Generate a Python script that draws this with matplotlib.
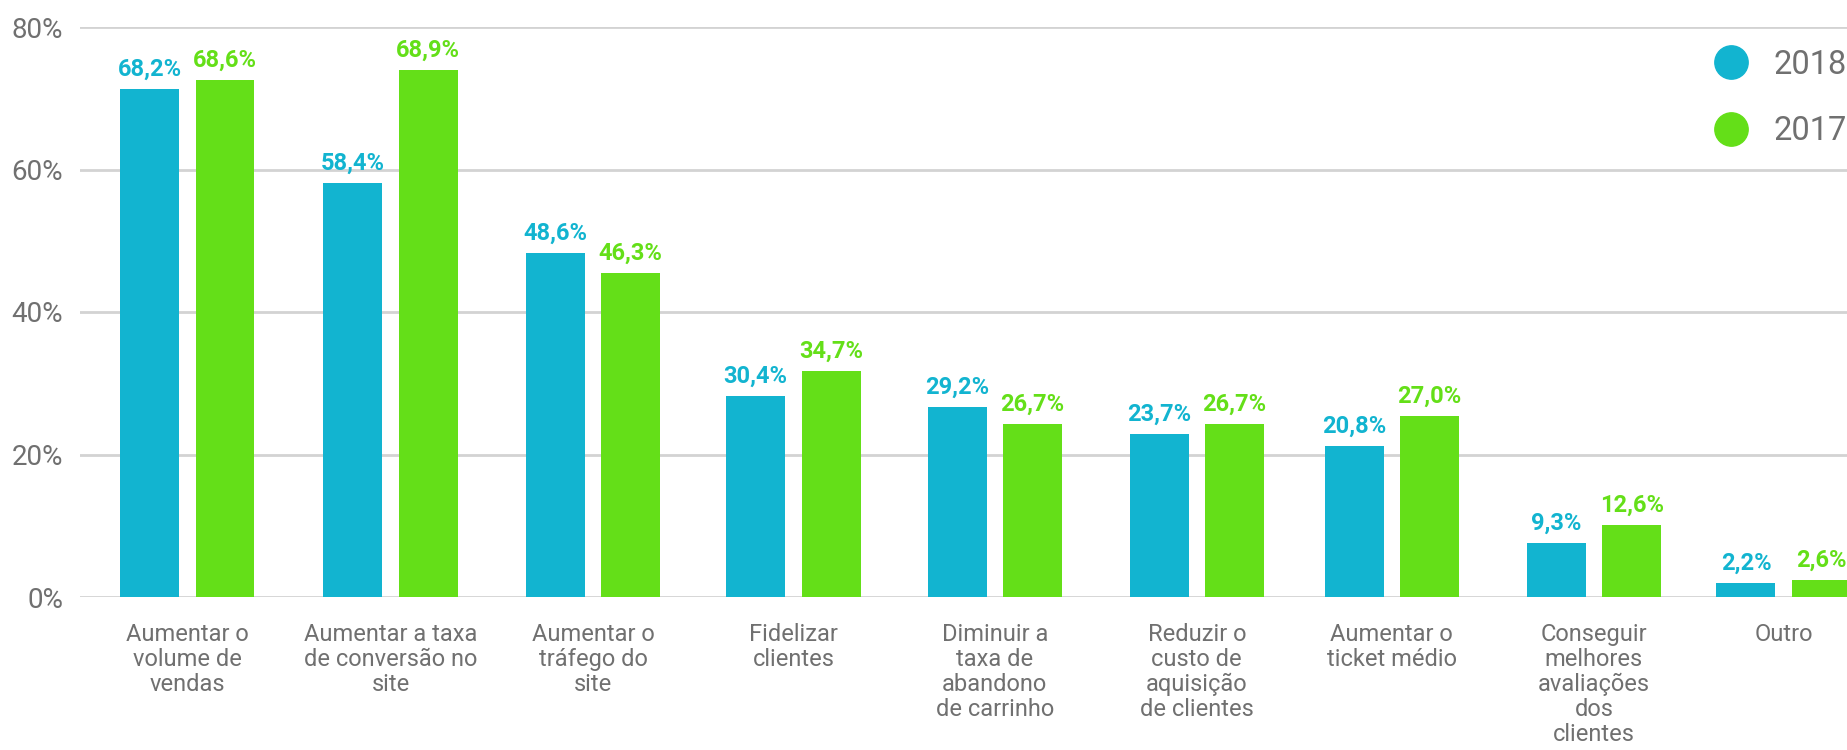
import matplotlib
matplotlib.use('Agg')
import matplotlib.pyplot as plt
import numpy as np
from matplotlib.lines import Line2D

plt.rcParams['font.family'] = ['Roboto', 'DejaVu Sans']

categorias = ['Aumentar o\nvolume de\nvendas',
              'Aumentar a taxa\nde conversão no\nsite',
              'Aumentar o\ntráfego do\nsite',
              'Fidelizar\nclientes',
              'Diminuir a\ntaxa de\nabandono\nde carrinho',
              'Reduzir o\ncusto de\naquisição\nde clientes',
              'Aumentar o\nticket médio',
              'Conseguir\nmelhores\navaliações\ndos\nclientes',
              'Outro']
# alturas das barras e rótulos mostrados
v2018 = [71.3, 58.1, 48.3, 28.2, 26.7, 22.9, 21.2, 7.6, 2.0]
v2017 = [72.6, 74.0, 45.5, 31.7, 24.3, 24.3, 25.4, 10.1, 2.4]
rot2018 = ['68,2%', '58,4%', '48,6%', '30,4%', '29,2%', '23,7%', '20,8%', '9,3%', '2,2%']
rot2017 = ['68,6%', '68,9%', '46,3%', '34,7%', '26,7%', '26,7%', '27,0%', '12,6%', '2,6%']
yticks = [0, 20, 40, 60, 80]

azul = '#12B4D0'
verde = '#64DF18'
cinza = '#707070'

fig = plt.figure(figsize=(18.47, 7.5), dpi=100)
ax = fig.add_axes([0.0433, 0.204, 0.9567, 0.76])

# posicoes dos grupos (espacamento nao e exatamente regular no original)
x = np.array([0, 1.011, 2.019, 3.015, 4.017, 5.022, 5.992, 6.998, 7.942])
w = 0.2935
off = 0.1875
b1 = ax.bar(x - off, v2018, w, color=azul, zorder=3)
b2 = ax.bar(x + off, v2017, w, color=verde, zorder=3)
ax.bar_label(b1, labels=rot2018, padding=6, color=azul, fontsize=17, fontweight='bold')
ax.bar_label(b2, labels=rot2017, padding=6, color=verde, fontsize=17, fontweight='bold')

ax.set_xlim(-0.534, 8.257)
ax.set_ylim(0, 80)
ax.set_yticks(yticks)
ax.set_yticklabels([f'{t}%' for t in yticks], color=cinza, fontsize=20)
ax.set_xticks(x)
ax.set_xticklabels(categorias, color=cinza, fontsize=17, linespacing=1.1)
ax.tick_params(axis='both', length=0)
ax.tick_params(axis='x', pad=19)
ax.tick_params(axis='y', pad=12)
ax.yaxis.grid(True, color='#d3d3d3', linewidth=2, zorder=0)
ax.set_axisbelow(True)
for s in ax.spines.values():
    s.set_visible(False)

handles = [Line2D([], [], marker='o', ls='', color=azul, markersize=24),
           Line2D([], [], marker='o', ls='', color=verde, markersize=24)]
ax.legend(handles, ['2018', '2017'], loc='upper right', bbox_to_anchor=(1.0, 0.935),
          bbox_transform=fig.transFigure, frameon=False,
          labelcolor=cinza, handlelength=1.2, handletextpad=0.72, labelspacing=1.05,
          borderpad=0, borderaxespad=0, prop={'size': 23.5})

fig.savefig('out.png', dpi=100)
